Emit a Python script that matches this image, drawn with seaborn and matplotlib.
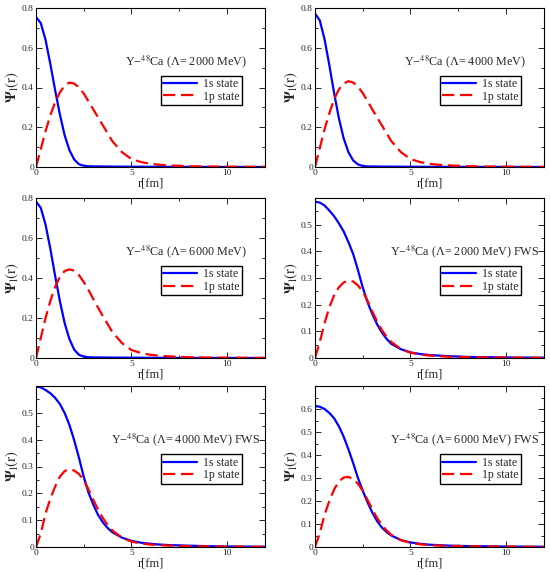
import numpy as np
import pandas as pd
import matplotlib
matplotlib.use("Agg")
import matplotlib.pyplot as plt
from matplotlib.ticker import MultipleLocator, FuncFormatter
import seaborn as sns

sns.set_style("ticks")
plt.rcParams['font.family'] = ['Liberation Serif', 'DejaVu Serif']
plt.rcParams['mathtext.fontset'] = 'stix'

# radial grid (fm)
r = [0, 0.25, 0.5, 0.75, 1, 1.25, 1.5, 1.75, 2, 2.25, 2.5, 2.75, 3, 3.25, 3.5,
     3.75, 4, 4.5, 5, 5.5, 6, 6.5, 7, 8, 9, 10, 11, 12]

# Lambda = 2000 MeV
s_2000 = [0.755, 0.724, 0.64, 0.519, 0.388, 0.265, 0.16, 0.085, 0.038, 0.014, 0.006, 0.004, 0.003, 0.003,
          0.0025, 0.0025, 0.002, 0.002, 0.0015, 0.0015, 0.001, 0.001, 0.0008, 0.0006, 0.0004, 0.0003, 0.0002, 0.0001]
p_2000 = [0, 0.09, 0.18, 0.26, 0.325, 0.375, 0.41, 0.425, 0.42, 0.40, 0.37, 0.33, 0.29, 0.25,
          0.21, 0.17, 0.13, 0.075, 0.04, 0.025, 0.016, 0.011, 0.008, 0.004, 0.002, 0.0015, 0.001, 0.0005]
# Lambda = 4000 MeV
s_4000 = [0.772, 0.738, 0.643, 0.513, 0.373, 0.246, 0.145, 0.075, 0.033, 0.013, 0.005, 0.003, 0.0025, 0.0025,
          0.002, 0.002, 0.002, 0.0015, 0.0015, 0.001, 0.001, 0.001, 0.0008, 0.0006, 0.0004, 0.0003, 0.0002, 0.0001]
p_4000 = [0, 0.095, 0.19, 0.27, 0.34, 0.39, 0.42, 0.432, 0.425, 0.405, 0.372, 0.332, 0.29, 0.25,
          0.21, 0.17, 0.13, 0.075, 0.04, 0.025, 0.016, 0.011, 0.008, 0.004, 0.002, 0.0015, 0.001, 0.0005]
# Lambda = 6000 MeV
s_6000 = [0.782, 0.751, 0.667, 0.547, 0.412, 0.285, 0.175, 0.095, 0.042, 0.016, 0.007, 0.004, 0.003, 0.003,
          0.0025, 0.0025, 0.002, 0.002, 0.0015, 0.0015, 0.001, 0.001, 0.0008, 0.0006, 0.0004, 0.0003, 0.0002, 0.0001]
p_6000 = [0, 0.1, 0.2, 0.285, 0.355, 0.405, 0.435, 0.443, 0.437, 0.415, 0.38, 0.34, 0.295, 0.252,
          0.21, 0.17, 0.13, 0.075, 0.04, 0.025, 0.016, 0.011, 0.008, 0.004, 0.002, 0.0015, 0.001, 0.0005]
# FWS, Lambda = 2000 MeV
s_2000_fws = [0.586, 0.583, 0.572, 0.553, 0.532, 0.505, 0.475, 0.435, 0.39, 0.33, 0.265, 0.21, 0.165, 0.127,
              0.096, 0.072, 0.053, 0.033, 0.021, 0.015, 0.011, 0.009, 0.007, 0.004, 0.003, 0.002, 0.0015, 0.001]
p_2000_fws = [0, 0.06, 0.13, 0.19, 0.235, 0.265, 0.283, 0.29, 0.287, 0.272, 0.25, 0.215, 0.175, 0.138,
              0.105, 0.08, 0.06, 0.034, 0.02, 0.013, 0.009, 0.007, 0.005, 0.003, 0.002, 0.0015, 0.001, 0.0005]
# FWS, Lambda = 4000 MeV
s_4000_fws = [0.598, 0.595, 0.585, 0.573, 0.556, 0.533, 0.50, 0.455, 0.398, 0.333, 0.262, 0.203, 0.158, 0.12,
              0.092, 0.071, 0.055, 0.035, 0.023, 0.016, 0.012, 0.009, 0.007, 0.005, 0.003, 0.002, 0.0015, 0.001]
p_4000_fws = [0, 0.05, 0.125, 0.18, 0.225, 0.262, 0.283, 0.29, 0.285, 0.272, 0.25, 0.215, 0.176, 0.14,
              0.108, 0.082, 0.062, 0.035, 0.02, 0.013, 0.009, 0.007, 0.005, 0.003, 0.002, 0.0015, 0.001, 0.0005]
# FWS, Lambda = 6000 MeV
s_6000_fws = [0.613, 0.61, 0.60, 0.583, 0.56, 0.525, 0.48, 0.425, 0.365, 0.30, 0.245, 0.195, 0.15, 0.113,
              0.085, 0.065, 0.05, 0.03, 0.02, 0.014, 0.01, 0.008, 0.006, 0.004, 0.003, 0.002, 0.0015, 0.001]
p_6000_fws = [0, 0.06, 0.14, 0.2, 0.25, 0.285, 0.302, 0.305, 0.295, 0.275, 0.245, 0.205, 0.165, 0.127,
              0.095, 0.072, 0.053, 0.03, 0.018, 0.012, 0.008, 0.006, 0.005, 0.003, 0.002, 0.0015, 0.001, 0.0005]

titles = ["Y\u2212$^{48}$Ca (\u039b= 2000 MeV)", "Y\u2212$^{48}$Ca (\u039b= 4000 MeV)",
          "Y\u2212$^{48}$Ca (\u039b= 6000 MeV)", "Y\u2212$^{48}$Ca (\u039b= 2000 MeV) FWS",
          "Y\u2212$^{48}$Ca (\u039b= 4000 MeV) FWS", "Y\u2212$^{48}$Ca (\u039b= 6000 MeV) FWS"]
series_1s = [s_2000, s_4000, s_6000, s_2000_fws, s_4000_fws, s_6000_fws]
series_1p = [p_2000, p_4000, p_6000, p_2000_fws, p_4000_fws, p_6000_fws]
ymax = [0.8, 0.8, 0.8, 0.6, 0.6, 0.7]
ytop_label = [0.8, 0.8, 0.8, 0.5, 0.5, 0.6]
ymajor = [0.2, 0.2, 0.2, 0.1, 0.1, 0.1]
labels = ["1s state", "1p state"]

W, H = 550, 572
fig = plt.figure(figsize=(W / 100, H / 100), dpi=100)
cols = [(36, 265), (315, 544)]
rows = [(8, 167), (198, 358), (386, 547)]

for i in range(6):
    row, col = i // 2, i % 2
    x0, x1 = cols[col]
    y0, y1 = rows[row]
    ax = fig.add_axes([x0 / W, 1 - y1 / H, (x1 - x0) / W, (y1 - y0) / H])
    df = pd.DataFrame({"r": r, "s": series_1s[i], "p": series_1p[i]})
    sns.lineplot(data=df, x="r", y="s", ax=ax, color=(0, 0, 1), lw=1.6,
                 label=labels[0], estimator=None)
    sns.lineplot(data=df, x="r", y="p", ax=ax, color=(1, 0, 0), lw=1.6,
                 linestyle=(0, (5.5, 2.6)), label=labels[1], estimator=None)
    ax.set_xlim(0, 12)
    ax.set_ylim(0, ymax[i])
    ax.set_xticks([0, 5, 10])
    ax.xaxis.set_minor_locator(MultipleLocator(2.5))
    yt = np.round(np.arange(0, ytop_label[i] + 1e-9, ymajor[i]), 2)
    ax.set_yticks(yt)
    ax.yaxis.set_minor_locator(MultipleLocator(ymajor[i] / 2))
    ax.yaxis.set_major_formatter(FuncFormatter(lambda v, p: "%g" % v))
    ax.tick_params(which='both', direction='in', top=True, right=True,
                   labelsize=6.8, width=0.7, pad=1.5)
    ax.tick_params(which='major', length=4.5)
    ax.tick_params(which='minor', length=2.5)
    for sp in ax.spines.values():
        sp.set_linewidth(0.8)
        sp.set_color('black')
    ax.set_xlabel("r[fm]", fontsize=9, labelpad=0.5)
    ax.set_ylabel(r"$\mathbf{\Psi}_\mathrm{l}\mathrm{(r)}$", fontsize=10.5, labelpad=1)
    ax.text(0.655, 0.665, titles[i], transform=ax.transAxes, ha='center',
            va='center', fontsize=8.7)
    leg = ax.legend(loc='upper right', bbox_to_anchor=(0.90, 0.575),
                    frameon=True, fancybox=False, edgecolor='black',
                    framealpha=1, fontsize=8.5, handlelength=2.9,
                    handletextpad=0.5, borderpad=0.2, labelspacing=0.05,
                    borderaxespad=0)
    leg.get_frame().set_linewidth(1.0)

fig.savefig("out.png", dpi=100)
